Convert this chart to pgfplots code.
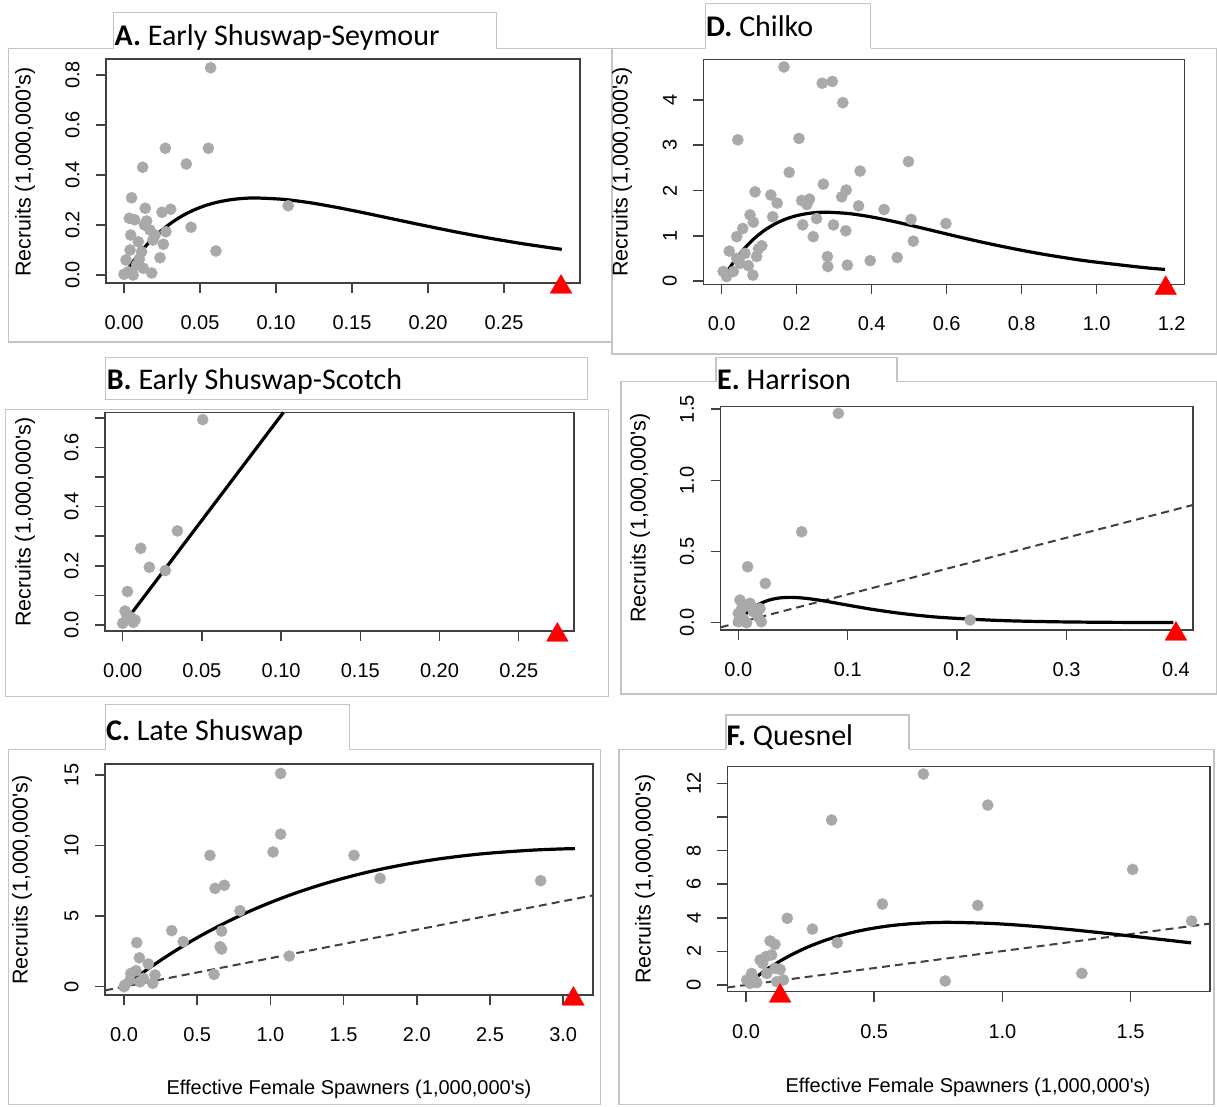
\documentclass[border=0pt]{standalone}
\usepackage{pgfplots}
\pgfplotsset{compat=1.18}
\usepackage{fontspec}
\setmainfont{Liberation Sans}
\newfontfamily\titlefont{Carlito}
\definecolor{dotgray}{HTML}{A9A9A9}
\definecolor{framegray}{HTML}{C4C4C4}
\definecolor{boxgray}{HTML}{404040}
\definecolor{dashgray}{HTML}{404040}
\pgfplotsset{
  rpanel/.style={
    scale only axis, anchor=south west, clip=false,
    axis line style={boxgray, line width=1.5pt},
    tick style={boxgray, line width=1.5pt},
    tick align=outside, major tick length=10pt,
    xtick pos=bottom, ytick pos=left,
    tick label style={font=\fontsize{20}{24}\selectfont},
    xticklabel style={anchor=north},
    yticklabel style={rotate=90, anchor=south},
    xticklabel shift=19pt, yticklabel shift=13pt,
  },
  dots/.style={only marks, mark=*, mark size=5.6pt, color=dotgray},
  curve/.style={black, line width=3.2pt, smooth},
  dline/.style={dashgray, line width=2pt, dash pattern=on 8pt off 5pt},
  tri/.style={only marks, mark=triangle*, mark size=12.5pt, color=red},
}
\begin{document}
\begin{tikzpicture}
\path[use as bounding box] (0,0) rectangle (1217pt,-1106pt);
\begin{scope}[x=1pt,y=-1pt]
  % panel frames
  \draw[framegray, line width=1.2pt] (8.3,48.3) rectangle (612,342);
  \draw[framegray, line width=1.2pt] (612,48.3) rectangle (1216.4,354);
  \draw[framegray, line width=1.2pt] (5.5,409.3) rectangle (608.7,696.7);
  \draw[framegray, line width=1.2pt] (621,381.7) rectangle (1216.4,694);
  \draw[framegray, line width=1.2pt] (8.7,749.3) rectangle (600.8,1104.5);
  \draw[framegray, line width=1.2pt] (619,749.3) rectangle (1214,1104.5);
  % title boxes
  \fill[white] (113.8,12.7) rectangle (496.4,50.5);
  \draw[framegray, line width=1.2pt] (113.8,48.3) -- (113.8,12.7) -- (496.4,12.7) -- (496.4,48.3);
  \fill[white] (705.5,3.3) rectangle (870.8,50.5);
  \draw[framegray, line width=1.2pt] (705.5,48.3) -- (705.5,3.3) -- (870.8,3.3) -- (870.8,48.3);
  \draw[framegray, line width=1.2pt, fill=white] (105.5,357.3) rectangle (587.7,399.3);
  \fill[white] (716,357.7) rectangle (897,383.9);
  \draw[framegray, line width=1.2pt] (716,381.7) -- (716,357.7) -- (897,357.7) -- (897,381.7);
  \fill[white] (105.5,704.3) rectangle (349.4,751.5);
  \draw[framegray, line width=1.2pt] (105.5,749.3) -- (105.5,704.3) -- (349.4,704.3) -- (349.4,749.3);
  \fill[white] (726,715) rectangle (909,751.5);
  \draw[framegray, line width=1.2pt] (726,749.3) -- (726,715) -- (909,715) -- (909,749.3);
  % titles
  \begin{scope}[every node/.style={anchor=base west, inner sep=0pt, font=\titlefont\fontsize{30}{36}\selectfont}]
    \node at (114.5,45) {\textbf{A.} Early Shuswap-Seymour};
    \node at (706,36.7) {\textbf{D.} Chilko};
    \node at (106.7,389) {\textbf{B.} Early Shuswap-Scotch};
    \node at (717,389) {\textbf{E.} Harrison};
    \node at (106,740) {\textbf{C.} Late Shuswap};
    \node at (726.5,745) {\textbf{F.} Quesnel};
  \end{scope}
  % axis labels
  \begin{scope}[every node/.style={font=\fontsize{21.5}{25}\selectfont}]
    \node[rotate=90] at (25,172) {Recruits (1,000,000\textquotesingle s)};
    \node[rotate=90] at (622,172) {Recruits (1,000,000\textquotesingle s)};
    \node[rotate=90] at (25,522) {Recruits (1,000,000\textquotesingle s)};
    \node[rotate=90] at (640,518) {Recruits (1,000,000\textquotesingle s)};
    \node[rotate=90] at (22,880) {Recruits (1,000,000\textquotesingle s)};
    \node[rotate=90] at (645,879) {Recruits (1,000,000\textquotesingle s)};
  \end{scope}
  \begin{scope}[every node/.style={font=\fontsize{20}{24}\selectfont}]
    \node at (349,1089) {Effective Female Spawners (1,000,000\textquotesingle s)};
    \node at (968,1087) {Effective Female Spawners (1,000,000\textquotesingle s)};
  \end{scope}
\end{scope}

% ---------- A ----------
\begin{axis}[rpanel, at={(106pt,-283pt)}, width=474pt, height=224pt,
  xmin=-0.01184, xmax=0.3, ymin=-0.032, ymax=0.864,
  xtick={0,0.05,0.1,0.15,0.2,0.25}, xticklabels={0.00,0.05,0.10,0.15,0.20,0.25},
  ytick={0,0.2,0.4,0.6,0.8}, yticklabels={0.0,0.2,0.4,0.6,0.8}]
\addplot[dots] coordinates {(0.057,0.829) (0.0272,0.507) (0.0555,0.507) (0.0123,0.431) (0.041,0.444) (0.005,0.309) (0.014,0.267) (0.025,0.251) (0.0307,0.263) (0.0035,0.227) (0.007,0.221) (0.0149,0.216) (0.0441,0.191) (0.108,0.277) (0.0044,0.16) (0.0171,0.18) (0.0276,0.173) (0.0094,0.133) (0.0259,0.123) (0.0237,0.069) (0.0605,0.096) (0.0182,0.008) (0.0013,0.06) (0.0101,0.064) (0.0127,0.027) (0.0029,0.013) (0.006,0) (0,0.003) (0.0083,0.04) (0.0204,0.16) (0.0116,0.093) (0.0135,0.2) (0.019,0.14) (0.004,0.1)};
\addplot[curve] coordinates {(0,0) (0.00875,0.0758) (0.0175,0.137) (0.02625,0.186) (0.035,0.2245) (0.04375,0.2538) (0.0525,0.2757) (0.06125,0.291) (0.07,0.301) (0.07875,0.3065) (0.0875,0.308) (0.105,0.3025) (0.1225,0.289) (0.14,0.2704) (0.1575,0.2492) (0.175,0.2267) (0.1969,0.1987) (0.21875,0.1719) (0.2406,0.1472) (0.2625,0.125) (0.2844,0.1056) (0.288,0.103)};
\addplot[tri] coordinates {(0.2875,-0.048)};
\end{axis}

% ---------- D ----------
\begin{axis}[rpanel, at={(703.3pt,-284.3pt)}, width=481.1pt, height=225pt,
  xmin=-0.04907, xmax=1.2339, ymin=-0.0729, ymax=4.899,
  xtick={0,0.2,0.4,0.6,0.8,1.0,1.2}, xticklabels={0.0,0.2,0.4,0.6,0.8,1.0,1.2},
  ytick={0,1,2,3,4}, yticklabels={0,1,2,3,4}]
\addplot[dots] coordinates {(0.166,4.73) (0.268,4.37) (0.295,4.41) (0.323,3.94) (0.043,3.12) (0.206,3.15) (0.498,2.64) (0.18,2.40) (0.369,2.43) (0.271,2.14) (0.089,1.97) (0.131,1.90) (0.332,2.01) (0.32,1.86) (0.148,1.72) (0.213,1.78) (0.234,1.81) (0.227,1.69) (0.365,1.66) (0.433,1.58) (0.0756,1.46) (0.0844,1.30) (0.136,1.42) (0.253,1.38) (0.505,1.36) (0.598,1.27) (0.216,1.24) (0.298,1.24) (0.331,1.11) (0.056,1.16) (0.04,0.98) (0.244,0.98) (0.511,0.88) (0.107,0.78) (0.098,0.71) (0.02,0.66) (0.093,0.54) (0.062,0.61) (0.282,0.54) (0.396,0.45) (0.468,0.52) (0.283,0.32) (0.335,0.35) (0.04,0.5) (0.071,0.34) (0.083,0.13) (0.004,0.21) (0.031,0.21) (0.013,0.10) (0.049,0.39)};
\addplot[curve] coordinates {(0.008,0.115) (0.028,0.374) (0.056,0.676) (0.084,0.918) (0.112,1.108) (0.14,1.252) (0.168,1.360) (0.196,1.436) (0.224,1.485) (0.252,1.512) (0.28,1.52) (0.336,1.493) (0.392,1.426) (0.448,1.335) (0.504,1.230) (0.56,1.119) (0.63,0.980) (0.70,0.848) (0.77,0.727) (0.84,0.617) (0.91,0.521) (0.98,0.436) (1.12,0.302) (1.182,0.256)};
\addplot[tri] coordinates {(1.184,-0.161)};
\end{axis}

% ---------- B ----------
\begin{axis}[rpanel, at={(105pt,-631pt)}, width=469pt, height=218.7pt,
  xmin=-0.01117, xmax=0.2849, ymin=-0.0203, ymax=0.7186,
  xtick={0,0.05,0.1,0.15,0.2,0.25}, xticklabels={0.00,0.05,0.10,0.15,0.20,0.25},
  ytick={0,0.1,0.2,0.3,0.4,0.5,0.6,0.7}, yticklabels={0.0,{},0.2,{},0.4,{},0.6,{}}]
\addplot[dots] coordinates {(0.0505,0.694) (0.0345,0.318) (0.0114,0.259) (0.0168,0.195) (0.0269,0.184) (0.003,0.113) (0.0015,0.047) (0.0078,0.017) (0,0.006) (0.0046,0.028) (0.0025,0.034) (0.0067,0.009)};
\addplot[curve] coordinates {(0,0) (0.1015,0.7186)};
\addplot[tri] coordinates {(0.2744,-0.0338)};
\end{axis}

% ---------- E ----------
\begin{axis}[rpanel, at={(720.7pt,-630pt)}, width=472.3pt, height=223.3pt,
  xmin=-0.0161, xmax=0.4156, ymin=-0.0513, ymax=1.5169,
  xtick={0,0.1,0.2,0.3,0.4}, xticklabels={0.0,0.1,0.2,0.3,0.4},
  ytick={0,0.5,1,1.5}, yticklabels={0.0,0.5,1.0,1.5}]
\addplot[dots] coordinates {(0.0914,1.47) (0.0579,0.639) (0.0085,0.393) (0.0247,0.276) (0.2118,0.019) (0.0015,0.159) (0.0107,0.136) (0.003,0.10) (0.0137,0.077) (0.018,0.042) (0.0046,0.03) (0.021,0.007) (0.0076,0) (0,0.007) (0.012,0.112) (0.0198,0.10) (0,0.065)};
\addplot[dline] coordinates {(-0.0161,-0.032) (0.4156,0.827)};
\addplot[curve] coordinates {(0,0) (0.00944,0.0792) (0.01888,0.1298) (0.02832,0.1593) (0.03776,0.1739) (0.0472,0.178) (0.05664,0.1748) (0.06608,0.167) (0.07552,0.1563) (0.08496,0.144) (0.0944,0.131) (0.118,0.0993) (0.1416,0.0723) (0.1652,0.0511) (0.1888,0.0354) (0.236,0.0163) (0.2832,0.0072) (0.3304,0.0031) (0.3776,0.0013) (0.3976,0.0009)};
\addplot[tri] coordinates {(0.4,-0.0794)};
\end{axis}

% ---------- C ----------
\begin{axis}[rpanel, at={(105pt,-995pt)}, width=488pt, height=231pt,
  xmin=-0.1298, xmax=3.2036, ymin=-0.588, ymax=15.77,
  xtick={0,0.5,1,1.5,2,2.5,3}, xticklabels={0.0,0.5,1.0,1.5,2.0,2.5,3.0},
  ytick={0,5,10,15}, yticklabels={0,5,10,15}]
\addplot[dots] coordinates {(1.07,15.1) (1.07,10.8) (1.018,9.54) (0.587,9.30) (1.571,9.30) (0.622,6.96) (0.685,7.18) (1.749,7.67) (2.846,7.51) (0.792,5.38) (0.326,3.97) (0.667,3.94) (0.405,3.19) (0.087,3.12) (0.656,2.83) (0.667,2.67) (1.129,2.17) (0.105,2.05) (0.166,1.61) (0.615,0.87) (0.046,0.94) (0.082,1.13) (0.212,0.83) (0.132,0.59) (0.196,0.24) (0.007,0.12) (0.041,0.47) (0.109,0.35) (0,0)};
\addplot[dline] coordinates {(-0.1298,-0.262) (3.2036,6.47)};
\addplot[curve] coordinates {(0,0) (0.165,1.267) (0.33,2.41) (0.495,3.44) (0.66,4.36) (0.825,5.19) (0.99,5.92) (1.155,6.57) (1.32,7.14) (1.485,7.64) (1.65,8.08) (1.815,8.45) (1.98,8.77) (2.145,9.04) (2.31,9.26) (2.475,9.44) (2.64,9.57) (2.805,9.68) (2.97,9.75) (3.08,9.78)};
\addplot[tri] coordinates {(3.07,-0.871)};
\end{axis}

% ---------- F ----------
\begin{axis}[rpanel, at={(727.3pt,-991.7pt)}, width=482.7pt, height=225pt,
  xmin=-0.0729, xmax=1.8097, ymin=-0.399, ymax=12.994,
  xtick={0,0.5,1,1.5}, xticklabels={0.0,0.5,1.0,1.5},
  ytick={0,2,4,6,8,10,12}, yticklabels={0,2,4,6,8,{},12}]
\addplot[dots] coordinates {(0.692,12.56) (0.943,10.71) (0.334,9.82) (1.508,6.88) (0.532,4.82) (0.904,4.74) (0.161,3.97) (1.738,3.81) (0.259,3.33) (0.356,2.52) (0.094,2.62) (0.113,2.42) (0.078,1.69) (0.1,1.79) (0.065,1.29) (0.113,0.99) (0.133,0.93) (1.31,0.69) (0.777,0.24) (0.022,0.69) (0.003,0.30) (0.029,0.40) (0.042,0.14) (0.146,0.30) (0.12,0.2) (0.081,0.69) (0.055,1.49) (0.016,0.1)};
\addplot[dline] coordinates {(-0.0729,-0.147) (1.8097,3.656)};
\addplot[curve] coordinates {(0,0) (0.08,0.918) (0.16,1.66) (0.24,2.253) (0.32,2.719) (0.4,3.074) (0.48,3.338) (0.56,3.525) (0.64,3.644) (0.72,3.711) (0.8,3.73) (0.96,3.663) (1.12,3.499) (1.28,3.275) (1.44,3.018) (1.6,2.745) (1.736,2.51)};
\addplot[tri] coordinates {(0.133,-0.655)};
\end{axis}
\end{tikzpicture}
\end{document}
